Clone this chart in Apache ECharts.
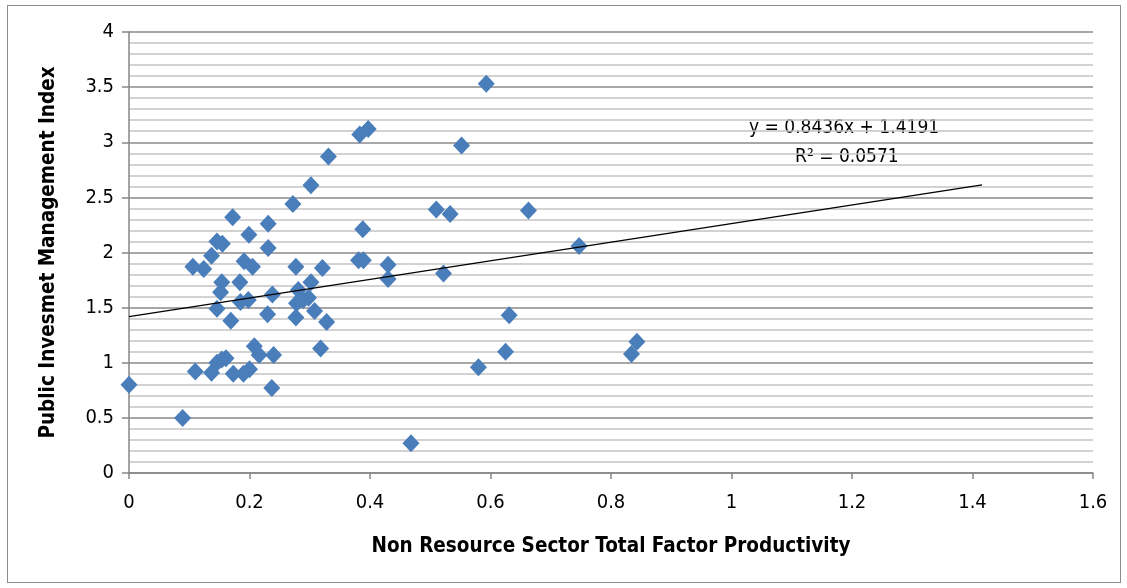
<!DOCTYPE html>
<html>
<head>
<meta charset="utf-8">
<script src="https://cdn.jsdelivr.net/npm/echarts@6/dist/echarts.min.js"></script>
<style>
  html, body { margin: 0; padding: 0; background: #fff; }
  #frame { position: absolute; left: 7px; top: 5px; width: 1112px; height: 576px; border: 1px solid #8c8c8c; }
  #pimChart { position: absolute; left: 0; top: 0; width: 1127px; height: 588px; }
</style>
</head>
<body>
<div id="frame"></div>
<div id="pimChart"></div>
<script>
// non resource sector TFP (x) vs public investment management index (y)
const tfp = [
  0.0, 0.089, 0.11, 0.137, 0.146, 0.154, 0.161, 0.173, 0.19, 0.2,
  0.208, 0.216, 0.24, 0.237, 0.318, 0.172, 0.231, 0.199, 0.146, 0.155,
  0.137, 0.231, 0.106, 0.124, 0.191, 0.205, 0.277, 0.321, 0.154, 0.152,
  0.184, 0.146, 0.169, 0.185, 0.198, 0.238, 0.23, 0.277, 0.281, 0.278,
  0.289, 0.298, 0.302, 0.308, 0.328, 0.272, 0.302, 0.331, 0.383, 0.397,
  0.388, 0.381, 0.389, 0.43, 0.43, 0.468, 0.51, 0.533, 0.552, 0.593,
  0.522, 0.58, 0.625, 0.631, 0.663, 0.747, 0.834, 0.843
];
const pim = [
  0.8, 0.5, 0.92, 0.91, 1.0, 1.03, 1.04, 0.9, 0.9, 0.94,
  1.15, 1.07, 1.07, 0.77, 1.13, 2.32, 2.26, 2.16, 2.1, 2.08,
  1.97, 2.04, 1.87, 1.85, 1.92, 1.87, 1.87, 1.86, 1.73, 1.64,
  1.73, 1.49, 1.38, 1.55, 1.57, 1.62, 1.44, 1.41, 1.66, 1.54,
  1.57, 1.59, 1.73, 1.47, 1.37, 2.44, 2.61, 2.87, 3.07, 3.12,
  2.21, 1.93, 1.93, 1.89, 1.76, 0.27, 2.39, 2.35, 2.97, 3.53,
  1.81, 0.96, 1.1, 1.43, 2.38, 2.06, 1.08, 1.19
];

// linear trendline as reported on the chart
const slope = 0.8436;
const intercept = 1.4191;
const trendX = [0, 1.416];
const trendLabels = ["y = 0.8436x + 1.4191", "R\u00b2 = 0.0571"];

const points = tfp.map((x, i) => [x, pim[i]]);
const trend = trendX.map(x => [x, slope * x + intercept]);

const labelFont = "'Liberation Sans Narrow', 'DejaVu Sans Condensed', sans-serif";

let myChart = echarts.init(document.getElementById("pimChart"));
myChart.setOption({
  animation: false,
  grid: {
    left: 129,
    top: 32,
    width: 964,
    height: 441,
    containLabel: false
  },
  xAxis: {
    type: "value",
    min: 0,
    max: 1.6,
    interval: 0.2,
    name: "Non Resource Sector Total Factor Productivity",
    nameLocation: "middle",
    nameGap: 63,
    nameTextStyle: { fontFamily: labelFont, fontWeight: "bold", fontSize: 20.5, color: "#000" },
    axisLine: { lineStyle: { color: "#868686", width: 1.5 } },
    axisTick: { show: true, length: 6, lineStyle: { color: "#868686", width: 1.5 } },
    axisLabel: {
      fontFamily: labelFont, fontSize: 20, color: "#000", margin: 20,
      formatter: v => String(Math.round(v * 10) / 10)
    },
    splitLine: { show: false }
  },
  yAxis: {
    type: "value",
    min: 0,
    max: 4,
    interval: 0.5,
    name: "Public Invesmet Management Index",
    nameLocation: "middle",
    nameGap: 70,
    nameTextStyle: { fontFamily: labelFont, fontWeight: "bold", fontSize: 20.5, color: "#000" },
    axisLine: { show: true, lineStyle: { color: "#868686", width: 1.5 } },
    axisTick: { show: true, length: 7, lineStyle: { color: "#868686", width: 1.5 } },
    axisLabel: { fontFamily: labelFont, fontSize: 20, color: "#000", margin: 15 },
    splitLine: { show: true, lineStyle: { color: "#8a8a8a", width: 1.5 } },
    minorTick: { show: false, splitNumber: 5 },
    minorSplitLine: { show: true, lineStyle: { color: "#c4c4c4", width: 1.5 } }
  },
  series: [
    {
      name: "PIM",
      type: "scatter",
      symbol: "diamond",
      symbolSize: [17, 18],
      data: points,
      itemStyle: { color: "#4a7ebb", opacity: 1 },
      z: 3
    },
    {
      name: "Linear",
      type: "line",
      data: trend,
      symbol: "none",
      lineStyle: { color: "#000", width: 1.2 },
      z: 4
    }
  ],
  graphic: [
    {
      type: "text",
      left: 749,
      top: 119,
      style: { text: trendLabels[0], fontFamily: labelFont, fontSize: 19, fill: "#000" }
    },
    {
      type: "text",
      left: 795,
      top: 148,
      style: { text: trendLabels[1], fontFamily: labelFont, fontSize: 19, fill: "#000" }
    }
  ]
});
</script>
</body>
</html>
